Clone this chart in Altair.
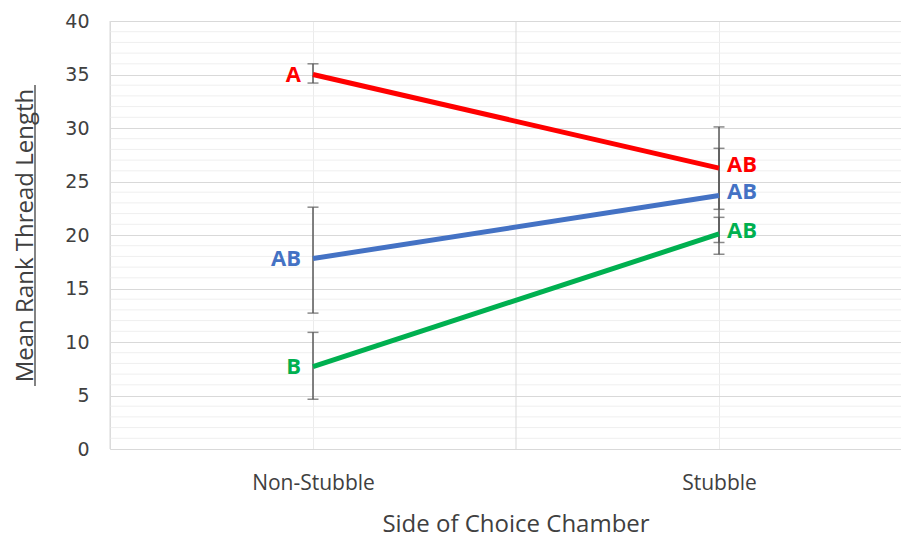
import altair as alt
import pandas as pd

categories = ["Non-Stubble", "Stubble"]
series = ["Red", "Blue", "Green"]
series_colors = ["#FF0000", "#4472C4", "#00B050"]

means_red = [35.0, 26.25]
means_blue = [17.8, 23.7]
means_green = [7.7, 20.1]

low_red = [34.2, 22.4]
high_red = [36.0, 30.1]
low_blue = [12.7, 19.3]
high_blue = [22.6, 28.1]
low_green = [4.65, 18.2]
high_green = [10.9, 21.65]

letters_red = ["A", "AB"]
letters_blue = ["AB", "AB"]
letters_green = ["B", "AB"]

y_major = list(range(0, 41, 5))
y_minor = [v for v in range(0, 41) if v % 5]
x_boundaries = [0, 1]

rows = []
for s, m, lo, hi, lt in [
    ("Red", means_red, low_red, high_red, letters_red),
    ("Blue", means_blue, low_blue, high_blue, letters_blue),
    ("Green", means_green, low_green, high_green, letters_green),
]:
    for i, c in enumerate(categories):
        rows.append({"series": s, "cat": c, "xi": i + 0.5, "mean": m[i],
                     "low": lo[i], "high": hi[i], "letter": lt[i], "side": i})
df = pd.DataFrame(rows)

FONT = "Open Sans"
TXT = "#404040"
W, H = 791, 428
x_dom = [0, W / 406.0]

x_enc = alt.X("xi:Q", scale=alt.Scale(domain=x_dom, nice=False, zero=False),
              axis=alt.Axis(values=[0.5, 1.5],
                            labelExpr="datum.value < 1 ? '%s' : '%s'" % (categories[0], categories[1]),
                            grid=True, gridColor="#EBEBEB", gridWidth=1,
                            domain=False, ticks=False, labelPadding=23,
                            labelFontSize=21, labelFont=FONT, labelColor=TXT,
                            title="Side of Choice Chamber", titleFont=FONT,
                            titleFontSize=24, titleFontWeight="normal", titleColor=TXT,
                            titleX=405.5, titleY=82, titleBaseline="alphabetic"))
y_scale = alt.Scale(domain=[0, 40], nice=False)
y_enc = alt.Y("mean:Q", scale=y_scale,
              axis=alt.Axis(values=y_major, grid=True, gridColor="#D9D9D9", gridWidth=1,
                            domain=False, ticks=False, labelPadding=21,
                            labelFontSize=19, labelFont="DejaVu Sans", labelColor=TXT,
                            title="Mean Rank Thread Length", titleFont=FONT,
                            titleFontSize=24, titleFontWeight="normal", titleColor=TXT,
                            titleX=-85, titleY=H / 2, titleBaseline="middle",
                            titleAngle=270))
color_enc = alt.Color("series:N", scale=alt.Scale(domain=series, range=series_colors), legend=None)

minor = alt.Chart(pd.DataFrame({"v": y_minor})).mark_rule(color="#EFEFEF", strokeWidth=1).encode(
    y=alt.Y("v:Q", scale=y_scale))
vbound = alt.Chart(pd.DataFrame({"b": x_boundaries})).mark_rule(color="#D9D9D9", strokeWidth=1).encode(
    x=alt.X("b:Q", scale=alt.Scale(domain=x_dom, nice=False, zero=False)))

base = alt.Chart(df)
err = base.mark_rule(color="#595959", strokeWidth=1.5).encode(
    x=x_enc, y=alt.Y("low:Q", scale=y_scale), y2="high:Q")
cap_lo = base.mark_tick(color="#595959", thickness=1.5, size=11, orient="horizontal").encode(
    x=alt.X("xi:Q"), y=alt.Y("low:Q", scale=y_scale))
cap_hi = base.mark_tick(color="#595959", thickness=1.5, size=11, orient="horizontal").encode(
    x=alt.X("xi:Q"), y=alt.Y("high:Q", scale=y_scale))
lines = base.mark_line(strokeWidth=5).encode(
    x=alt.X("xi:Q"), y=y_enc, color=color_enc, detail="series:N")

lab_left = base.transform_filter("datum.side == 0").mark_text(
    align="right", baseline="middle", dx=-12, font=FONT, fontSize=22, fontWeight="bold").encode(
    x=alt.X("xi:Q"), y=alt.Y("mean:Q", scale=y_scale), text="letter:N", color=color_enc)
lab_right = base.transform_filter("datum.side == 1").mark_text(
    align="left", baseline="middle", dx=8, dy=-3, font=FONT, fontSize=22, fontWeight="bold").encode(
    x=alt.X("xi:Q"), y=alt.Y("mean:Q", scale=y_scale), text="letter:N", color=color_enc)

underline = alt.Chart(pd.DataFrame({"k": [0]})).mark_rule(color=TXT, strokeWidth=1.3).encode(
    x=alt.value(-75), y=alt.value(64), y2=alt.value(365))

chart = alt.layer(minor, vbound, err, cap_lo, cap_hi, lines, lab_left, lab_right, underline).properties(
    width=W, height=H,
    autosize=alt.AutoSizeParams(type="none"),
    padding={"left": 102, "top": 13, "right": 0, "bottom": 84},
).configure_view(stroke=None).configure(background="white")

chart.save("out.html", embed_options={"renderer": "svg", "actions": False})
